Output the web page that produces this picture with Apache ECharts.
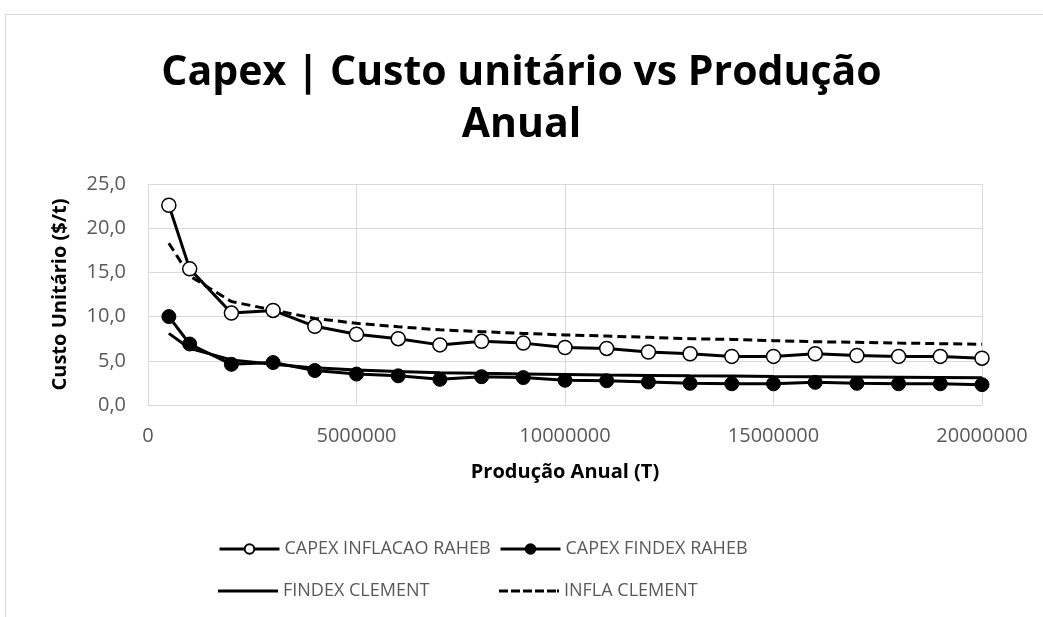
<!DOCTYPE html>
<html>
  <head>
    <meta charset="utf-8" />
    <title>Capex | Custo unitário vs Produção Anual</title>
    <script src="https://cdn.jsdelivr.net/npm/echarts@6/dist/echarts.min.js"></script>
    <style>
      body { margin:0; padding:0; background:#fff; }
      #frame { position:absolute; left:5px; top:14px; width:1100px; height:700px; border:1px solid #d9d9d9; }
      #chart { position:absolute; left:0; top:0; width:1043px; height:617px; }
    </style>
  </head>
  <body>
    <div id="frame"></div>
    <div id="chart"></div>
    <script type="text/javascript">
      // produção anual (T)
      var producao = [500000, 1000000, 2000000, 3000000, 4000000, 5000000, 6000000, 7000000,
                      8000000, 9000000, 10000000, 11000000, 12000000, 13000000, 14000000,
                      15000000, 16000000, 17000000, 18000000, 19000000, 20000000];
      var capexInflacaoRaheb = [22.6, 15.4, 10.4, 10.7, 8.9, 8.0, 7.5, 6.8, 7.2, 7.0, 6.5,
                                6.4, 6.0, 5.8, 5.5, 5.5, 5.8, 5.6, 5.5, 5.5, 5.3];
      var capexFindexRaheb = [10.0, 6.9, 4.6, 4.8, 3.9, 3.5, 3.3, 2.9, 3.2, 3.1, 2.8,
                              2.75, 2.6, 2.45, 2.4, 2.4, 2.56, 2.45, 2.4, 2.4, 2.3];
      var findexClement = [8.1, 6.4, 5.1, 4.6, 4.2, 3.95, 3.8, 3.66, 3.58, 3.52, 3.46,
                           3.4, 3.35, 3.3, 3.27, 3.23, 3.2, 3.17, 3.14, 3.11, 3.08];
      var inflaClement = [18.3, 14.6, 11.7, 10.75, 9.8, 9.24, 8.86, 8.5, 8.3, 8.1, 7.92,
                          7.8, 7.65, 7.5, 7.42, 7.28, 7.16, 7.09, 7.01, 6.94, 6.86];

      function pts(ys) {
        return producao.map(function (x, i) { return [x, ys[i]]; });
      }

      var font = '"Open Sans", "Noto Sans", sans-serif';
      var grey = '#595959';
      var dashIcon = 'path://M0,0h9v3h-9z M12,0h9v3h-9z M24,0h9v3h-9z M36,0h9v3h-9z M48,0h9v3h-9z M58,0h2v3h-2z';
      var myChart = echarts.init(document.getElementById('chart'), null, { renderer: 'canvas' });

      function legendAt(item, left, top, h) {
        return {
          data: [item], left: left, top: top, padding: 0, itemWidth: 60, itemHeight: h, itemGap: 0,
          lineStyle: { width: 3 },
          textStyle: { color: grey, fontSize: 18, fontFamily: font }
        };
      }

      myChart.setOption({
        animation: false,
        title: {
          text: 'Capex | Custo unitário vs Produção\nAnual',
          left: 'center', top: 42,
          textStyle: { fontFamily: font, fontWeight: 'bold', fontSize: 41, lineHeight: 52, color: '#000' }
        },
        legend: [
          legendAt('CAPEX INFLACAO RAHEB', 218, 540, 12),
          legendAt('CAPEX FINDEX RAHEB', 499, 540, 12),
          legendAt({ name: 'FINDEX CLEMENT', icon: 'rect' }, 218, 582, 3),
          legendAt({ name: 'INFLA CLEMENT', icon: dashIcon }, 499, 582, 3)
        ],
        grid: { left: 148, right: 61, top: 184, bottom: 212 },
        xAxis: {
          type: 'value', min: 0, max: 20000000, interval: 5000000,
          name: 'Produção Anual (T)', nameLocation: 'middle', nameGap: 57,
          nameTextStyle: { fontFamily: font, fontWeight: 'bold', fontSize: 20, color: '#000' },
          axisLine: { lineStyle: { color: '#d9d9d9' } },
          axisTick: { show: false },
          axisLabel: { color: grey, fontSize: 20, fontFamily: font, margin: 21,
                       formatter: function (v) { return String(v); } },
          splitLine: { lineStyle: { color: '#d9d9d9', width: 1 } }
        },
        yAxis: {
          type: 'value', min: 0, max: 25, interval: 5,
          name: 'Custo Unitário ($/t)', nameLocation: 'middle', nameGap: 78,
          nameTextStyle: { fontFamily: font, fontWeight: 'bold', fontSize: 20, color: '#000' },
          axisLine: { show: false },
          axisTick: { show: false },
          axisLabel: { color: grey, fontSize: 20, fontFamily: font, margin: 22,
                       formatter: function (v) { return v.toFixed(1).replace('.', ','); } },
          splitLine: { lineStyle: { color: '#d9d9d9', width: 1 } }
        },
        series: [
          {
            name: 'CAPEX INFLACAO RAHEB', type: 'line', data: pts(capexInflacaoRaheb),
            symbol: 'circle', symbolSize: 14,
            lineStyle: { color: '#000', width: 3 },
            itemStyle: { color: '#fff', borderColor: '#000', borderWidth: 1.5 }
          },
          {
            name: 'CAPEX FINDEX RAHEB', type: 'line', data: pts(capexFindexRaheb),
            symbol: 'circle', symbolSize: 14,
            lineStyle: { color: '#000', width: 3 },
            itemStyle: { color: '#000', borderColor: '#000', borderWidth: 1 }
          },
          {
            name: 'FINDEX CLEMENT', type: 'line', data: pts(findexClement),
            symbol: 'none', showSymbol: false,
            lineStyle: { color: '#000', width: 3 },
            itemStyle: { color: '#000' }
          },
          {
            name: 'INFLA CLEMENT', type: 'line', data: pts(inflaClement),
            symbol: 'none', showSymbol: false,
            lineStyle: { color: '#000', width: 3, type: [9, 5] },
            itemStyle: { color: '#000' }
          }
        ]
      });
    </script>
  </body>
</html>
